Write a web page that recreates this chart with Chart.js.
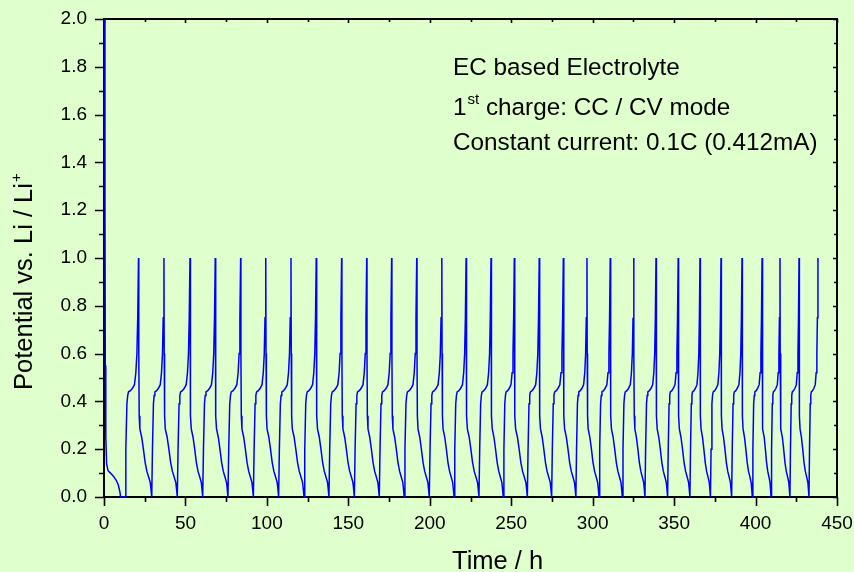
<!DOCTYPE html>
<html>
<head>
<meta charset="utf-8">
<script src="https://cdn.jsdelivr.net/npm/chart.js@4/dist/chart.umd.min.js"></script>
<style>
html,body{margin:0;padding:0;background:#DFFFCC;}
canvas{display:block;}
</style>
</head>
<body>
<canvas id="c" width="854" height="572"></canvas>
<script>
// ---- data ----
// x axis ticks (h) and y axis ticks (V)
const xTicks = [0, 50, 100, 150, 200, 250, 300, 350, 400, 450];
const yTicks = [0.0, 0.2, 0.4, 0.6, 0.8, 1.0, 1.2, 1.4, 1.6, 1.8, 2.0];

// initial discharge (first lithiation, CC then CV at 0 V)
const initialTime      = [0.5, 0.6, 0.8, 1.1, 1.6, 2.5, 4.0, 6.0, 7.5, 8.8, 9.8, 10.2, 12.9];
const initialPotential = [2.0, 1.2, 0.55, 0.25, 0.14, 0.11, 0.10, 0.085, 0.07, 0.05, 0.02, 0.0, 0.0];

// times (h) of each 1.0 V cut-off peak
const peakTimes = [21.2, 36.8, 52.8, 68.3, 83.9, 99.3, 114.8, 130.3, 145.9, 161.3,
                   176.6, 192.0, 207.4, 222.3, 237.6, 251.9, 267.2, 282.0, 296.5, 310.8,
                   325.2, 338.9, 352.5, 365.9, 378.8, 391.7, 404.0, 415.0, 426.7, 438.3];
// times (h) of each 0.0 V minimum following a peak
const valleyTimes = [29.3, 45.0, 60.6, 76.1, 91.7, 107.2, 122.8, 138.1, 153.7, 169.0,
                     184.3, 199.7, 214.9, 230.2, 245.1, 259.9, 274.8, 289.7, 303.9, 318.2,
                     332.1, 346.0, 359.7, 372.3, 385.3, 398.0, 409.5, 421.1, 432.8];

// shape of one discharge step (fraction of step duration, potential V)
const fallFraction  = [0, 0.02, 0.05, 0.10, 0.24, 0.37, 0.50, 0.63, 0.76, 0.89, 0.95, 1];
const fallPotential = [1.0, 0.60, 0.34, 0.285, 0.25, 0.20, 0.145, 0.108, 0.085, 0.06, 0.03, 0.0];
// shape of one charge step (fraction of step duration, potential V)
const riseFraction  = [0, 0.06, 0.14, 0.20, 0.26, 0.40, 0.55, 0.70, 0.80, 0.88, 0.94, 1];
const risePotential = [0.0, 0.20, 0.39, 0.425, 0.44, 0.445, 0.455, 0.47, 0.52, 0.60, 0.75, 1.0];

// ---- build the point table ----
const points = [];
initialTime.forEach((t, i) => points.push({x: t, y: initialPotential[i]}));
function addStep(t0, t1, fr, pv) {
  for (let k = 1; k < fr.length; k++) points.push({x: t0 + fr[k] * (t1 - t0), y: pv[k]});
}
addStep(initialTime[initialTime.length - 1], peakTimes[0], riseFraction, risePotential);
for (let i = 0; i < valleyTimes.length; i++) {
  addStep(peakTimes[i], valleyTimes[i], fallFraction, fallPotential);
  addStep(valleyTimes[i], peakTimes[i + 1], riseFraction, risePotential);
}

const FONT = "'Liberation Sans', Arial, Helvetica, sans-serif";
const BG = '#DFFFCC';

const framePlugin = {
  id: 'frame',
  beforeDraw(chart) {
    const c = chart.ctx;
    c.save();
    c.fillStyle = BG;
    c.fillRect(0, 0, chart.width, chart.height);
    c.restore();
  },
  beforeDatasetsDraw(chart) {
    const c = chart.ctx, a = chart.chartArea, xs = chart.scales.x, ys = chart.scales.y;
    c.save();
    c.strokeStyle = '#000';
    c.lineWidth = 1.6;
    // ticks on x (bottom outward, top inward)
    for (let v = 0; v <= 450; v += 25) {
      const px = Math.round(xs.getPixelForValue(v)) + 0.5;
      const major = v % 50 === 0;
      c.beginPath();
      c.moveTo(px, a.bottom); c.lineTo(px, a.bottom + (major ? 9 : 5));
      c.moveTo(px, a.top); c.lineTo(px, a.top + (major ? 4 : 3));
      c.stroke();
    }
    // ticks on y (left outward, right inward)
    for (let k = 0; k <= 20; k++) {
      const v = k * 0.1;
      const py = Math.round(ys.getPixelForValue(v)) + 0.5;
      const major = k % 2 === 0;
      c.beginPath();
      c.moveTo(a.left, py); c.lineTo(a.left - (major ? 9 : 5), py);
      c.moveTo(a.right, py); c.lineTo(a.right - (major ? 4 : 3), py);
      c.stroke();
    }
    c.lineWidth = 2;
    c.strokeRect(a.left, a.top, a.right - a.left, a.bottom - a.top);
    c.restore();
  },
  afterDraw(chart) {
    const c = chart.ctx;
    c.save();
    c.fillStyle = '#000';
    c.textBaseline = 'alphabetic';
    c.textAlign = 'left';
    // annotations
    c.font = '24.3px ' + FONT;
    c.fillText('EC based Electrolyte', 453, 75);
    c.fillText('1', 453, 115);
    let w1 = c.measureText('1').width;
    c.font = '15px ' + FONT;
    c.fillText('st', 453 + w1 + 1, 104);
    let w2 = c.measureText('st').width;
    c.font = '24.3px ' + FONT;
    c.fillText(' charge: CC / CV mode', 453 + w1 + 1 + w2, 115);
    c.fillText('Constant current: 0.1C (0.412mA)', 453, 150);
    // x title
    c.font = '25.5px ' + FONT;
    c.fillText('Time / h', 452, 569);
    // y title
    c.translate(32, 390);
    c.rotate(-Math.PI / 2);
    c.font = '25.5px ' + FONT;
    const yt = 'Potential vs. Li / Li';
    c.fillText(yt, 0, 0);
    const wy = c.measureText(yt).width;
    c.font = '15px ' + FONT;
    c.fillText('+', wy + 1, -11);
    c.restore();
  }
};

new Chart(document.getElementById('c'), {
  type: 'line',
  data: {
    datasets: [{
      data: points,
      borderColor: '#0000FF',
      borderWidth: 1.5,
      pointRadius: 0,
      tension: 0,
      fill: false,
      clip: 3
    }]
  },
  options: {
    responsive: false,
    animation: false,
    parsing: false,
    normalized: true,
    layout: {padding: {left: 0, right: 17, top: 19, bottom: 0}},
    plugins: {legend: {display: false}, tooltip: {enabled: false}, title: {display: false}},
    scales: {
      x: {
        type: 'linear', min: 0, max: 450,
        afterBuildTicks(s) { s.ticks = xTicks.map(v => ({value: v})); },
        ticks: {color: '#000', font: {family: FONT, size: 19}, padding: 15, maxRotation: 0, autoSkip: false},
        grid: {display: false, drawTicks: false},
        border: {display: false},
        afterFit(s) { s.height = 75; s.paddingLeft = 0; s.paddingRight = 0; }
      },
      y: {
        type: 'linear', min: 0, max: 2,
        afterBuildTicks(s) { s.ticks = yTicks.map(v => ({value: v})); },
        ticks: {color: '#000', font: {family: FONT, size: 19}, padding: 17,
                callback: v => Number(v).toFixed(1)},
        grid: {display: false, drawTicks: false},
        border: {display: false},
        afterFit(s) { s.width = 104; s.paddingTop = 0; s.paddingBottom = 0; }
      }
    }
  },
  plugins: [framePlugin]
});
</script>
</body>
</html>
